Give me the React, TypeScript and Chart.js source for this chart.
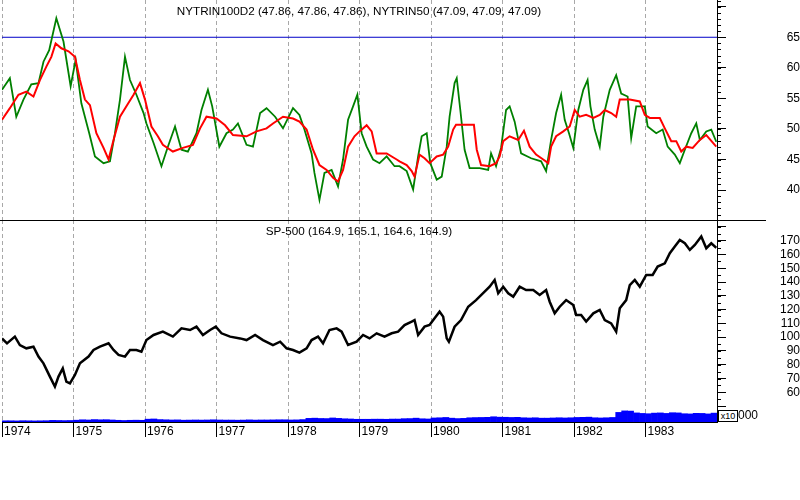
import React, { useEffect, useRef } from 'react';
import Chart from 'chart.js/auto';

// ---- data ----
const yearTicks = [1974, 1975, 1976, 1977, 1978, 1979, 1980, 1981, 1982, 1983];

const trinTicks = [40, 45, 50, 55, 60, 65, 70];
const trinLabels = [40, 45, 50, 55, 60, 65];
const trinLevel = 65;

const spTicks = [50, 60, 70, 80, 90, 100, 110, 120, 130, 140, 150, 160, 170, 180];
const spLabels = [60, 70, 80, 90, 100, 110, 120, 130, 140, 150, 160, 170];

// NYTRIN100D2 (green)
const greenDates = [
  1974.0, 1974.11, 1974.2, 1974.3, 1974.41, 1974.51, 1974.58, 1974.66, 1974.76, 1974.86,
  1974.96, 1975.03, 1975.11, 1975.22, 1975.3, 1975.42, 1975.51, 1975.58, 1975.65, 1975.72,
  1975.79, 1975.88, 1975.98, 1976.02, 1976.12, 1976.23, 1976.32, 1976.42, 1976.51, 1976.6,
  1976.72, 1976.79, 1976.88, 1976.94, 1977.04, 1977.14, 1977.23, 1977.3, 1977.42, 1977.51,
  1977.61, 1977.7, 1977.82, 1977.93, 1978.07, 1978.16, 1978.23, 1978.33, 1978.37, 1978.44,
  1978.51, 1978.61, 1978.7, 1978.77, 1978.84, 1978.91, 1978.97, 1979.03, 1979.1, 1979.19,
  1979.28, 1979.38, 1979.49, 1979.56, 1979.66, 1979.75, 1979.82, 1979.87, 1979.94, 1979.99,
  1980.08, 1980.15, 1980.22, 1980.26, 1980.33, 1980.36, 1980.41, 1980.47, 1980.54, 1980.68,
  1980.8, 1980.84, 1980.91, 1980.98, 1981.05, 1981.1, 1981.17, 1981.26, 1981.4, 1981.54,
  1981.61, 1981.68, 1981.75, 1981.82, 1981.87, 1981.93, 1981.99, 1982.06, 1982.13, 1982.19,
  1982.23, 1982.29, 1982.36, 1982.41, 1982.5, 1982.59, 1982.66, 1982.75, 1982.8, 1982.87,
  1982.99, 1983.03, 1983.15, 1983.24, 1983.31, 1983.41, 1983.48, 1983.55, 1983.64, 1983.71,
  1983.76, 1983.85, 1983.92, 1983.99,
];
const greenValues = [
  56.4, 58.3, 52.0, 54.8, 57.3, 57.5, 61.0, 62.9, 68.1, 64.3,
  57.0, 61.3, 54.2, 49.3, 45.5, 44.4, 44.7, 49.3, 54.8, 61.8,
  58.0, 55.6, 52.6, 50.9, 47.7, 43.9, 47.1, 50.4, 46.6, 46.3,
  49.3, 53.1, 56.4, 53.7, 47.1, 49.3, 49.9, 50.9, 47.4, 47.1,
  52.6, 53.4, 52.0, 50.1, 53.4, 52.3, 49.9, 46.0, 42.8, 38.4,
  42.8, 43.3, 40.6, 45.0, 51.5, 53.7, 55.6, 49.3, 47.1, 45.0,
  44.4, 45.5, 43.9, 43.9, 43.1, 40.1, 45.5, 48.8, 49.3, 44.4,
  41.7, 42.2, 47.1, 52.0, 57.5, 58.3, 53.1, 46.6, 43.6, 43.6,
  43.3, 46.0, 43.9, 46.9, 53.1, 53.7, 51.2, 46.0, 45.2, 44.7,
  43.1, 48.2, 52.6, 55.6, 51.5, 49.3, 46.9, 53.1, 56.4, 58.0,
  53.7, 49.9, 47.1, 52.0, 56.4, 58.8, 55.8, 55.3, 48.5, 53.7,
  53.7, 50.4, 49.3, 49.9, 47.1, 45.8, 44.4, 46.6, 49.3, 50.9,
  48.2, 49.6, 49.9, 47.9,
];

// NYTRIN50 (red)
const redDates = [
  1974.0, 1974.11, 1974.23, 1974.34, 1974.44, 1974.53, 1974.62, 1974.69, 1974.75, 1974.83,
  1974.93, 1975.02, 1975.09, 1975.16, 1975.23, 1975.32, 1975.42, 1975.49, 1975.56, 1975.65,
  1975.74, 1975.84, 1975.93, 1976.0, 1976.09, 1976.18, 1976.25, 1976.39, 1976.53, 1976.67,
  1976.77, 1976.86, 1977.0, 1977.12, 1977.23, 1977.42, 1977.56, 1977.7, 1977.79, 1977.93,
  1978.07, 1978.16, 1978.26, 1978.35, 1978.44, 1978.54, 1978.63, 1978.7, 1978.77, 1978.84,
  1978.93, 1979.0, 1979.1, 1979.17, 1979.24, 1979.38, 1979.52, 1979.56, 1979.66, 1979.73,
  1979.77, 1979.84, 1979.91, 1979.98, 1980.08, 1980.17, 1980.24, 1980.31, 1980.35, 1980.5,
  1980.6, 1980.64, 1980.7, 1980.82, 1980.91, 1980.96, 1981.01, 1981.1, 1981.22, 1981.3,
  1981.38, 1981.47, 1981.57, 1981.64, 1981.68, 1981.75, 1981.85, 1981.94, 1982.01, 1982.08,
  1982.17, 1982.27, 1982.36, 1982.43, 1982.52, 1982.59, 1982.64, 1982.78, 1982.92, 1982.99,
  1983.06, 1983.2, 1983.27, 1983.36, 1983.43, 1983.5, 1983.57, 1983.66, 1983.76, 1983.85,
  1983.99,
];
const redValues = [
  51.5, 53.4, 55.6, 56.1, 55.3, 58.0, 60.2, 61.8, 64.0, 63.2,
  62.7, 61.8, 58.0, 54.8, 53.9, 49.3, 46.9, 45.0, 48.2, 52.0,
  53.7, 55.6, 57.5, 54.8, 50.4, 48.8, 47.4, 46.3, 46.9, 47.4,
  50.1, 52.0, 51.7, 50.6, 49.0, 48.8, 49.6, 50.1, 50.9, 52.0,
  51.7, 51.2, 49.9, 46.6, 44.1, 43.3, 42.0, 41.4, 43.3, 47.1,
  48.8, 49.6, 50.6, 49.6, 46.0, 46.0, 45.0, 44.7, 44.1, 43.1,
  42.2, 45.8, 45.2, 44.4, 45.5, 45.8, 47.1, 49.9, 50.7, 50.7,
  50.7, 46.6, 44.1, 43.9, 44.4, 45.5, 48.0, 48.8, 48.2, 49.7,
  47.1, 45.8, 45.0, 44.4, 47.1, 48.8, 49.6, 50.4, 53.1, 52.0,
  52.3, 51.8, 52.3, 53.1, 52.6, 52.0, 54.8, 54.8, 54.5, 52.3,
  51.8, 51.8, 50.1, 48.0, 48.0, 46.3, 47.1, 46.9, 48.2, 49.0,
  47.1,
];

// SP-500 close
const spDates = [
  1974.0, 1974.07, 1974.18, 1974.25, 1974.34, 1974.44, 1974.51, 1974.58, 1974.67, 1974.74,
  1974.79, 1974.85, 1974.9, 1974.95, 1975.02, 1975.09, 1975.21, 1975.28, 1975.37, 1975.49,
  1975.56, 1975.63, 1975.72, 1975.79, 1975.88, 1975.95, 1976.02, 1976.12, 1976.25, 1976.39,
  1976.51, 1976.63, 1976.72, 1976.81, 1976.91, 1976.99, 1977.07, 1977.19, 1977.33, 1977.42,
  1977.54, 1977.65, 1977.79, 1977.89, 1977.98, 1978.07, 1978.16, 1978.26, 1978.33, 1978.42,
  1978.49, 1978.58, 1978.68, 1978.75, 1978.84, 1978.96, 1979.05, 1979.14, 1979.24, 1979.35,
  1979.45, 1979.54, 1979.63, 1979.73, 1979.77, 1979.82, 1979.91, 1979.98, 1980.05, 1980.12,
  1980.17, 1980.22, 1980.25, 1980.33, 1980.42, 1980.52, 1980.63, 1980.75, 1980.82, 1980.89,
  1980.94, 1981.01, 1981.08, 1981.15, 1981.24, 1981.33, 1981.43, 1981.52, 1981.61, 1981.66,
  1981.73, 1981.8, 1981.89, 1981.99, 1982.03, 1982.1, 1982.17, 1982.27, 1982.36, 1982.43,
  1982.52, 1982.59, 1982.64, 1982.73, 1982.78, 1982.85, 1982.92, 1983.01, 1983.1, 1983.17,
  1983.27, 1983.34, 1983.41, 1983.48, 1983.55, 1983.62, 1983.69, 1983.78, 1983.85, 1983.92,
  1983.99,
];
const spValues = [
  99.1, 95.5, 100.4, 94.3, 91.9, 93.1, 85.9, 81.0, 71.4, 64.1,
  71.4, 77.4, 67.7, 66.5, 72.6, 81.0, 85.9, 90.7, 93.1, 95.5,
  90.7, 87.1, 85.9, 90.7, 90.7, 89.5, 97.9, 101.6, 104.0, 100.4,
  106.4, 105.2, 107.6, 101.6, 105.2, 107.6, 102.8, 100.4, 99.1, 97.9,
  101.6, 97.9, 94.3, 96.7, 91.9, 90.7, 88.8, 91.9, 97.9, 100.4,
  95.5, 105.2, 106.4, 104.0, 94.3, 96.7, 101.6, 99.1, 102.8, 100.4,
  102.8, 104.0, 108.8, 111.3, 112.4, 101.6, 107.6, 108.8, 113.7, 118.5,
  114.9, 99.1, 96.7, 107.6, 112.4, 122.1, 126.9, 133.0, 136.6, 141.5,
  131.8, 136.6, 131.8, 129.4, 136.6, 134.2, 134.2, 130.6, 134.2, 125.7,
  117.3, 122.1, 126.9, 123.3, 116.1, 116.1, 111.3, 117.3, 119.7, 112.4,
  110.0, 104.0, 120.9, 126.9, 137.8, 141.5, 136.6, 145.1, 145.1, 151.2,
  153.6, 160.9, 165.7, 170.5, 168.1, 163.3, 166.9, 173.0, 164.5, 168.1,
  164.9,
];

// monthly volume, Jan 1974 .. Dec 1983 (millions)
const volumeStart = 1974;
const volumeValues = [
  12, 12, 11, 13, 12, 11, 12, 13, 16, 15, 14, 15,
  18, 22, 20, 24, 22, 23, 20, 17, 15, 17, 18, 17,
  28, 30, 24, 22, 20, 21, 18, 19, 20, 19, 20, 22,
  20, 19, 19, 18, 19, 21, 19, 20, 20, 21, 22, 22,
  20, 21, 24, 36, 38, 35, 34, 40, 36, 32, 30, 27,
  27, 27, 28, 28, 27, 29, 29, 33, 34, 38, 32, 30,
  40, 42, 45, 38, 34, 36, 42, 44, 45, 46, 52, 48,
  47, 45, 46, 42, 40, 42, 38, 38, 40, 42, 40, 42,
  45, 46, 48, 42, 40, 42, 45, 95, 110, 108, 90, 85,
  82, 88, 90, 85, 92, 90, 82, 80, 86, 85, 80, 88,
];

const FONT = "'Liberation Sans', Arial, sans-serif";
const GRID = '#a8a8a8';

const pairs = (xs: number[], ys: number[]) => xs.map((x, i) => ({ x, y: ys[i] }));

// short ticks between the labelled ones on the right axis
const minorTicks = {
  id: 'minorTicks',
  afterDraw(chart: any, _args: any, opts: any) {
    const scale = chart.scales.y;
    if (!scale || !opts || !opts.step) return;
    const ctx = chart.ctx;
    ctx.save();
    ctx.strokeStyle = '#000';
    ctx.lineWidth = 1;
    ctx.beginPath();
    for (let v = Math.ceil(scale.min / opts.step) * opts.step; v <= scale.max; v += opts.step) {
      const y = Math.round(scale.getPixelForValue(v)) + 0.5;
      ctx.moveTo(scale.left, y);
      ctx.lineTo(scale.left + opts.length, y);
    }
    ctx.stroke();
    ctx.restore();
  },
};

const fixBox = (w?: number, h?: number) => (s: any) => {
  if (w !== undefined) s.width = w;
  if (h !== undefined) s.height = h;
  s.paddingTop = 0;
  s.paddingBottom = 0;
  s.paddingLeft = 0;
  s.paddingRight = 0;
};

const App: React.FC = () => {
  const trinRef = useRef<HTMLCanvasElement>(null);
  const spRef = useRef<HTMLCanvasElement>(null);

  useEffect(() => {
    Chart.defaults.font.family = FONT;
    Chart.defaults.color = '#000';
    const charts: any[] = [];

    const xGrid = {
      type: 'linear',
      min: 1974,
      max: 1984,
      offset: false,
      afterBuildTicks: (s: any) => {
        s.ticks = yearTicks.map(v => ({ value: v }));
      },
    };

    if (trinRef.current) {
      charts.push(new Chart(trinRef.current, {
        type: 'line',
        data: {
          datasets: [
            {
              label: 'NYTRIN50',
              data: pairs(redDates, redValues),
              borderColor: '#ff0000',
              borderWidth: 2,
              pointRadius: 0,
            },
            {
              label: 'NYTRIN100D2',
              data: pairs(greenDates, greenValues),
              borderColor: '#008000',
              borderWidth: 1.8,
              pointRadius: 0,
            },
            {
              label: 'level',
              data: [{ x: 1974, y: trinLevel }, { x: 1984, y: trinLevel }],
              borderColor: '#0000c8',
              borderWidth: 1,
              pointRadius: 0,
            },
          ],
        },
        options: {
          responsive: false,
          animation: false,
          events: [],
          layout: { padding: { left: 2, right: 0, top: 0, bottom: 0 }, autoPadding: false },
          plugins: {
            legend: { display: false },
            tooltip: { enabled: false },
            minorTicks: { step: 1, length: 4 },
          } as any,
          scales: {
            x: {
              ...xGrid,
              afterFit: fixBox(undefined, 0),
              ticks: { display: false },
              grid: { color: GRID, drawTicks: false, offset: false },
              border: { display: false, dash: [4, 3] },
            } as any,
            y: {
              position: 'right',
              min: 35.1,
              max: 71.1,
              afterBuildTicks: (s: any) => {
                s.ticks = trinTicks.map(v => ({ value: v }));
              },
              afterFit: fixBox(83),
              grid: { drawOnChartArea: false, tickLength: 9, color: '#000' },
              border: { color: '#000' },
              ticks: {
                crossAlign: 'far',
                padding: 12.7,
                autoSkip: false,
                font: { size: 12 },
                callback: (v: any) => (trinLabels.includes(v) ? String(v) : ''),
              },
            } as any,
          },
        },
        plugins: [minorTicks],
      }));
    }

    if (spRef.current) {
      charts.push(new Chart(spRef.current, {
        type: 'line',
        data: {
          datasets: [
            {
              label: 'SP-500',
              data: pairs(spDates, spValues),
              borderColor: '#000',
              borderWidth: 2.5,
              pointRadius: 0,
            },
            {
              type: 'bar',
              label: 'Volume',
              data: volumeValues.map((v, i) => ({ x: volumeStart + (i + 0.5) / 12, y: v })),
              yAxisID: 'yVol',
              backgroundColor: '#0000ff',
              borderWidth: 0,
              barPercentage: 1,
              categoryPercentage: 1,
              grouped: false,
            } as any,
          ],
        },
        options: {
          responsive: false,
          animation: false,
          events: [],
          layout: { padding: { left: 2, right: 0, top: 0, bottom: 0 }, autoPadding: false },
          plugins: {
            legend: { display: false },
            tooltip: { enabled: false },
            minorTicks: { step: 5, length: 4 },
          } as any,
          scales: {
            x: {
              ...xGrid,
              afterFit: fixBox(undefined, 38),
              ticks: {
                align: 'start',
                labelOffset: 2,
                padding: -13,
                autoSkip: false,
                maxRotation: 0,
                font: { size: 12 },
                callback: (v: any) => String(v),
              },
              grid: { color: GRID, tickColor: '#000', tickLength: 15, offset: false },
              border: { display: true, color: '#000', dash: [4, 3] },
            } as any,
            y: {
              position: 'right',
              min: 38.45,
              max: 185,
              afterBuildTicks: (s: any) => {
                s.ticks = spTicks.map(v => ({ value: v }));
              },
              afterFit: fixBox(83),
              grid: { drawOnChartArea: false, tickLength: 9, color: '#000' },
              border: { color: '#000' },
              ticks: {
                crossAlign: 'far',
                padding: 6,
                autoSkip: false,
                font: { size: 12 },
                callback: (v: any) => (spLabels.includes(v) ? String(v) : ''),
              },
            } as any,
            yVol: { display: false, min: 0, max: 2000 },
          },
        },
        plugins: [minorTicks],
      }));
    }

    return () => {
      charts.forEach(c => c.destroy());
    };
  }, []);

  return (
    <div style={{ position: 'absolute', left: 0, top: 0, width: 800, height: 500, background: '#fff', fontFamily: FONT, color: '#000' }}>
      <canvas ref={trinRef} width={800} height={220} style={{ position: 'absolute', left: 0, top: 0 }} />
      <canvas ref={spRef} width={800} height={240} style={{ position: 'absolute', left: 0, top: 220 }} />
      <div style={{ position: 'absolute', left: 0, top: 220, width: 766, height: 0, borderTop: '1px solid #000' }} />
      <div style={{ position: 'absolute', left: 0, top: 4, width: 718, textAlign: 'center', fontSize: 11.7, lineHeight: '14px', whiteSpace: 'nowrap' }}>
        NYTRIN100D2 (47.86, 47.86, 47.86), NYTRIN50 (47.09, 47.09, 47.09)
      </div>
      <div style={{ position: 'absolute', left: 0, top: 224, width: 718, textAlign: 'center', fontSize: 11.7, lineHeight: '14px', whiteSpace: 'nowrap' }}>
        SP-500 (164.9, 165.1, 164.6, 164.9)
      </div>
      <div style={{ position: 'absolute', left: 718, top: 410, width: 18, height: 10, border: '1px solid #000', fontSize: 9, lineHeight: '10px', textAlign: 'center', background: '#fff' }}>
        x10
      </div>
      <div style={{ position: 'absolute', left: 738, top: 408, fontSize: 12, lineHeight: '14px' }}>000</div>
    </div>
  );
};

export default App;
